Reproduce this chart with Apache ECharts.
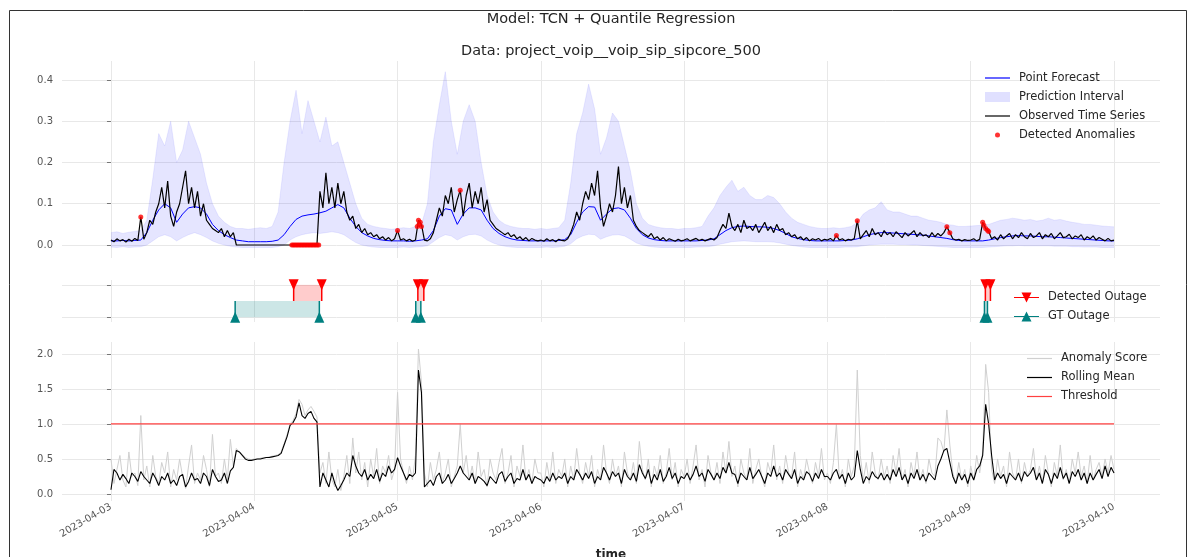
<!DOCTYPE html>
<html>
<head>
<meta charset="utf-8">
<script src="https://cdn.jsdelivr.net/npm/echarts@6/dist/echarts.min.js"></script>
<style>
  html, body { margin: 0; padding: 0; background: #fff; }
  #chart { width: 1196px; height: 557px; }
</style>
</head>
<body>
<div id="chart"></div>
<script>
// x is "hours after 2023-04-03 00:00"
var dayLabels = ['2023-04-03', '2023-04-04', '2023-04-05', '2023-04-06', '2023-04-07', '2023-04-08', '2023-04-09', '2023-04-10'];
var dayTicks = [0, 24, 48, 72, 96, 120, 144, 168];

// observed series, one value every 30 min (one row per day)
var observed = [
  0.012,0.008,0.015,0.010,0.013,0.007,0.014,0.009,0.016,0.011, 0.068,0.014,0.03,0.06,0.05,0.08,0.10,0.14,0.09,0.155, 0.07,0.045,0.08,0.10,0.14,0.18,0.10,0.14,0.09,0.13, 0.07,0.10,0.06,0.05,0.04,0.035,0.03,0.04,0.02,0.035, 0.02,0.03,0,0,0,0,0,0,
  0,0,0,0,0,0,0,0,0,0, 0,0,0,0,0,0,0,0,0,0, 0,0, 0.13,0.09,0.175,0.1,0.14,0.09,0.15,0.1,0.13,0.08, 0.06,0.07,0.04,0.05,0.03,0.04,0.025,0.03,0.02,0.025, 0.015,0.02,0.012,0.018,0.01,0.015,
  0.035,0.012,0.015,0.01,0.014,0.009,0.012,0.06,0.05,0.012, 0.01,0.015,0.03,0.06,0.09,0.07,0.12,0.1,0.14,0.08, 0.11,0.133,0.07,0.12,0.15,0.09,0.13,0.1,0.14,0.08, 0.11,0.06,0.05,0.04,0.035,0.03,0.025,0.03,0.02,0.025, 0.015,0.02,0.012,0.018,0.01,0.016,0.012,0.01,
  0.012,0.009,0.015,0.01,0.013,0.008,0.014,0.011,0.01,0.015, 0.03,0.05,0.08,0.06,0.1,0.13,0.11,0.15,0.12,0.18, 0.09,0.045,0.07,0.1,0.08,0.12,0.19,0.1,0.14,0.09, 0.12,0.06,0.045,0.035,0.03,0.025,0.02,0.028,0.015,0.02, 0.012,0.018,0.01,0.015,0.012,0.009,0.014,0.01,
  0.012,0.015,0.01,0.013,0.016,0.011,0.014,0.01,0.013,0.016, 0.012,0.018,0.035,0.05,0.04,0.077,0.045,0.035,0.05,0.03, 0.06,0.04,0.045,0.035,0.05,0.03,0.042,0.055,0.035,0.045, 0.03,0.05,0.035,0.04,0.025,0.03,0.02,0.025,0.015,0.02, 0.012,0.018,0.01,0.015,0.012,0.016,0.01,0.014,
  0.012,0.016,0.01,0.023,0.012,0.015,0.01,0.014,0.012,0.016, 0.059,0.015,0.025,0.035,0.02,0.04,0.025,0.03,0.02,0.035, 0.025,0.03,0.02,0.032,0.025,0.018,0.03,0.022,0.028,0.035, 0.02,0.03,0.022,0.025,0.018,0.03,0.02,0.028,0.022,0.03, 0.044,0.03,0.015,0.012,0.014,0.01,0.013,0.011,
  0.012,0.015,0.01,0.014,0.055,0.04,0.033,0.015,0.02,0.012, 0.025,0.015,0.022,0.028,0.015,0.025,0.018,0.03,0.02,0.015, 0.028,0.018,0.022,0.03,0.015,0.025,0.02,0.028,0.015,0.022, 0.03,0.018,0.02,0.026,0.015,0.022,0.018,0.025,0.012,0.02, 0.015,0.022,0.012,0.018,0.014,0.01,0.016,0.01,0.012
];

// forecast and interval bounds, one value per hour
var forecast = [
  0.010,0.010,0.011,0.010,0.011,0.012,0.03,0.06,0.085,0.10,0.09,0.055,0.075,0.09,0.093,0.09,0.075,0.05,0.035,0.025,0.018,0.012,0.01,0.008,
  0.008,0.008,0.008,0.009,0.012,0.025,0.045,0.062,0.07,0.073,0.075,0.078,0.082,0.09,0.098,0.09,0.065,0.045,0.03,0.022,0.016,0.013,0.011,0.01,
  0.01,0.01,0.009,0.01,0.012,0.015,0.035,0.07,0.088,0.085,0.05,0.075,0.09,0.09,0.085,0.06,0.04,0.028,0.02,0.015,0.012,0.011,0.01,0.01,
  0.01,0.01,0.01,0.011,0.013,0.025,0.055,0.08,0.093,0.092,0.06,0.075,0.088,0.09,0.085,0.065,0.04,0.025,0.017,0.013,0.011,0.01,0.01,0.01,
  0.01,0.01,0.01,0.011,0.012,0.015,0.025,0.035,0.042,0.045,0.046,0.045,0.044,0.044,0.043,0.04,0.035,0.028,0.02,0.016,0.013,0.011,0.01,0.01,
  0.01,0.01,0.01,0.011,0.012,0.015,0.02,0.025,0.028,0.03,0.03,0.029,0.028,0.027,0.026,0.025,0.024,0.022,0.02,0.018,0.016,0.013,0.011,0.01,
  0.01,0.01,0.01,0.012,0.015,0.018,0.02,0.022,0.023,0.022,0.022,0.021,0.02,0.02,0.019,0.018,0.017,0.016,0.015,0.014,0.013,0.012,0.011,0.01,0.01
];
var upperBound = [
  0.03,0.032,0.028,0.031,0.033,0.035,0.06,0.16,0.27,0.24,0.3,0.2,0.23,0.3,0.26,0.22,0.15,0.1,0.07,0.055,0.045,0.04,0.04,0.038,
  0.04,0.042,0.04,0.045,0.08,0.2,0.3,0.375,0.27,0.35,0.3,0.25,0.31,0.24,0.25,0.2,0.15,0.1,0.065,0.05,0.045,0.042,0.04,0.038,
  0.04,0.042,0.04,0.045,0.05,0.1,0.25,0.34,0.42,0.3,0.22,0.3,0.34,0.3,0.2,0.12,0.08,0.06,0.05,0.045,0.042,0.04,0.04,0.038,
  0.04,0.038,0.04,0.042,0.06,0.15,0.27,0.32,0.39,0.33,0.22,0.26,0.32,0.3,0.24,0.18,0.1,0.065,0.05,0.045,0.042,0.04,0.04,0.038,
  0.04,0.04,0.042,0.045,0.07,0.09,0.12,0.14,0.157,0.13,0.14,0.12,0.11,0.11,0.12,0.115,0.1,0.08,0.065,0.055,0.05,0.045,0.042,0.04,
  0.04,0.042,0.04,0.042,0.045,0.055,0.075,0.085,0.09,0.105,0.085,0.08,0.08,0.075,0.07,0.07,0.065,0.06,0.058,0.055,0.05,0.048,0.045,0.045,
  0.046,0.047,0.048,0.05,0.055,0.06,0.062,0.065,0.063,0.06,0.062,0.058,0.06,0.065,0.06,0.062,0.058,0.055,0.053,0.05,0.05,0.048,0.046,0.045,0.044
];
var lowerBound = [
  -0.005,-0.006,-0.004,-0.006,-0.005,-0.004,0.0,0.01,0.02,0.025,0.02,0.01,0.018,0.025,0.03,0.025,0.018,0.01,0.004,0.0,-0.003,-0.005,-0.006,-0.006,
  -0.006,-0.006,-0.006,-0.006,-0.004,0.0,0.012,0.02,0.025,0.028,0.03,0.028,0.03,0.032,0.03,0.025,0.015,0.006,0.0,-0.003,-0.005,-0.006,-0.006,-0.006,
  -0.006,-0.005,-0.006,-0.005,-0.004,-0.002,0.008,0.018,0.025,0.022,0.012,0.02,0.025,0.026,0.022,0.012,0.005,0.0,-0.003,-0.005,-0.006,-0.006,-0.006,-0.006,
  -0.006,-0.005,-0.006,-0.005,-0.003,0.003,0.015,0.022,0.026,0.025,0.014,0.02,0.024,0.025,0.022,0.014,0.005,0.0,-0.003,-0.005,-0.006,-0.006,-0.006,-0.006,
  -0.006,-0.006,-0.005,-0.005,-0.004,-0.002,0.002,0.005,0.008,0.009,0.01,0.009,0.008,0.008,0.008,0.007,0.005,0.002,-0.001,-0.003,-0.005,-0.006,-0.006,-0.006,
  -0.006,-0.006,-0.006,-0.005,-0.005,-0.004,-0.002,0.0,0.001,0.002,0.002,0.002,0.001,0.001,0.0,0.0,-0.001,-0.002,-0.003,-0.004,-0.005,-0.006,-0.006,-0.006,
  -0.006,-0.006,-0.006,-0.005,-0.004,-0.003,-0.002,-0.002,-0.001,-0.002,-0.002,-0.002,-0.002,-0.002,-0.003,-0.003,-0.003,-0.004,-0.004,-0.005,-0.005,-0.005,-0.006,-0.006,-0.006
];

var anomalyHours = [5, 30.3, 30.55, 30.8, 31.05, 31.3, 31.55, 31.8, 32.05, 32.3, 32.55, 32.8, 33.05, 33.3, 33.55, 33.8, 34.05, 34.3, 34.55, 34.8,
  48, 51.3, 51.5, 51.6, 51.8, 52, 58.5, 121.5, 125, 140, 140.5, 146, 146.2, 146.5, 146.8, 147];
var anomalyValues = [0.068, 0, 0, 0, 0, 0, 0, 0, 0, 0, 0, 0, 0, 0, 0, 0, 0, 0, 0, 0,
  0.035, 0.045, 0.06, 0.05, 0.055, 0.045, 0.133, 0.023, 0.059, 0.044, 0.03, 0.055, 0.048, 0.04, 0.036, 0.033];

// outages (hours)
var gtStart = [20.8, 51.05, 146.3];
var gtEnd = [34.9, 51.9, 146.8];
var detStart = [30.6, 51.4, 146.45];
var detEnd = [35.3, 52.4, 147.3];

// anomaly score and its rolling mean, every 30 min
var anomalyScore = [
  0.5,0.15,0.35,0.55,0.2,0.1,0.6,0.25,0.3,0.12, 1.12,0.2,0.4,0.1,0.55,0.25,0.15,0.45,0.3,0.6, 0.1,0.35,0.2,0.5,0.25,0.08,0.4,0.7,0.15,0.3, 0.2,0.55,0.35,0.1,0.85,0.25,0.3,0.15,0.5,0.2, 0.78,0.4,0.65,0.6,0.56,0.52,0.5,0.49,
  0.5,0.5,0.51,0.52,0.52,0.53,0.54,0.55, 0.56,0.6,0.72,0.85,1.0,1.05,1.15,1.35,1.28,1.12,1.2,1.25,1.18,1.1, 0.3,0.45,0.15,0.6,0.2,0.1,0.35,0.05,0.25,0.55, 0.15,0.8,0.3,0.6,0.2,0.45,0.1,0.5,0.25,0.65, 0.15,0.4,0.3,0.55,0.2,0.35,
  1.45,0.5,0.3,0.15,0.4,0.2,0.55,2.07,1.6,0.3, 0.1,0.45,0.2,0.35,0.6,0.15,0.3,0.5,0.1,0.25, 0.4,1.0,0.3,0.55,0.2,0.4,0.15,0.6,0.25,0.35, 0.1,0.5,0.3,0.2,0.45,0.65,0.15,0.3,0.55,0.1, 0.4,0.25,0.7,0.2,0.35,0.15,0.5,0.3,
  0.3,0.1,0.45,0.2,0.6,0.15,0.35,0.25,0.5,0.1, 0.4,0.2,0.65,0.3,0.15,0.45,0.25,0.55,0.1,0.35, 0.2,0.7,0.3,0.15,0.5,0.25,0.4,0.1,0.6,0.3, 0.2,0.45,0.15,0.75,0.35,0.2,0.5,0.1,0.4,0.25, 0.55,0.15,0.3,0.65,0.2,0.45,0.1,0.35,
  0.25,0.5,0.15,0.4,0.7,0.2,0.35,0.1,0.55,0.3, 0.2,0.45,0.15,0.6,0.3,0.75,0.25,0.4,0.1,0.5, 0.3,0.2,0.65,0.15,0.35,0.5,0.25,0.1,0.45,0.3, 0.7,0.2,0.4,0.15,0.55,0.3,0.25,0.6,0.1,0.35, 0.2,0.5,0.3,0.15,0.45,0.25,0.65,0.2,
  0.3,0.15,0.45,1.0,0.2,0.35,0.1,0.5,0.25,0.4, 1.77,0.55,0.2,0.45,0.15,0.6,0.3,0.2,0.5,0.25, 0.4,0.15,0.55,0.3,0.65,0.2,0.35,0.1,0.45,0.25, 0.6,0.2,0.35,0.15,0.5,0.3,0.25,0.8,0.75,0.6, 1.2,0.7,0.3,0.15,0.45,0.2,0.35,0.1,
  0.4,0.2,0.55,0.3,0.6,1.85,1.45,0.35,0.15,0.5, 0.25,0.4,0.1,0.6,0.3,0.2,0.5,0.15,0.45,0.25, 0.35,0.65,0.2,0.4,0.15,0.55,0.3,0.1,0.45,0.25, 0.7,0.2,0.35,0.15,0.5,0.3,0.6,0.25,0.4,0.15, 0.55,0.2,0.35,0.45,0.25,0.5,0.3,0.55,0.35
];
var rollingMean = [
  0.06,0.35,0.3,0.2,0.28,0.22,0.15,0.3,0.25,0.18, 0.32,0.25,0.2,0.15,0.3,0.22,0.12,0.25,0.2,0.3, 0.15,0.2,0.12,0.25,0.28,0.1,0.18,0.3,0.2,0.22, 0.15,0.3,0.25,0.12,0.35,0.25,0.18,0.2,0.3,0.15, 0.33,0.38,0.62,0.6,0.55,0.5,0.48,0.48,
  0.49,0.5,0.5,0.51,0.52,0.52,0.53,0.54, 0.55,0.58,0.7,0.82,0.98,1.02,1.1,1.3,1.12,1.08,1.15,1.18,1.08,1.03, 0.1,0.3,0.2,0.1,0.3,0.15,0.05,0.12,0.2,0.3, 0.25,0.55,0.4,0.3,0.25,0.35,0.2,0.28,0.22,0.35, 0.18,0.3,0.25,0.4,0.3,0.35,
  0.52,0.4,0.3,0.2,0.28,0.25,0.3,1.77,1.45,0.1, 0.15,0.2,0.12,0.25,0.3,0.15,0.2,0.28,0.15,0.22, 0.3,0.4,0.3,0.25,0.2,0.3,0.15,0.25,0.22,0.18, 0.12,0.25,0.2,0.15,0.28,0.32,0.18,0.25,0.3,0.15, 0.22,0.2,0.35,0.2,0.28,0.15,0.25,0.22,
  0.2,0.15,0.25,0.18,0.3,0.2,0.25,0.22,0.3,0.15, 0.25,0.2,0.35,0.28,0.2,0.3,0.22,0.32,0.15,0.25, 0.2,0.38,0.3,0.2,0.32,0.25,0.3,0.15,0.35,0.25, 0.2,0.3,0.18,0.42,0.3,0.22,0.35,0.15,0.28,0.2, 0.35,0.18,0.25,0.38,0.22,0.3,0.15,0.25,
  0.22,0.3,0.2,0.28,0.4,0.25,0.3,0.18,0.35,0.28, 0.2,0.3,0.22,0.38,0.3,0.45,0.3,0.28,0.15,0.3, 0.25,0.2,0.38,0.22,0.28,0.35,0.25,0.15,0.3,0.25, 0.4,0.25,0.3,0.2,0.35,0.28,0.22,0.35,0.15,0.25, 0.2,0.32,0.28,0.18,0.3,0.22,0.35,0.25,
  0.25,0.2,0.3,0.35,0.22,0.28,0.15,0.3,0.2,0.25, 0.62,0.35,0.15,0.25,0.2,0.32,0.25,0.22,0.3,0.2, 0.28,0.2,0.35,0.25,0.38,0.2,0.28,0.15,0.3,0.22, 0.35,0.2,0.28,0.18,0.3,0.25,0.2,0.4,0.5,0.62, 0.65,0.45,0.25,0.15,0.3,0.2,0.28,0.15,
  0.3,0.2,0.35,0.4,0.55,1.28,1.0,0.55,0.2,0.3, 0.22,0.28,0.15,0.3,0.25,0.2,0.3,0.18,0.32,0.25, 0.3,0.38,0.2,0.3,0.15,0.35,0.28,0.15,0.3,0.22, 0.38,0.22,0.3,0.15,0.32,0.25,0.35,0.2,0.3,0.15, 0.3,0.2,0.28,0.35,0.22,0.4,0.25,0.38,0.3
];
var threshold = 1.0;

var FONT = 'DejaVu Sans';
var LINE_ICON = 'path://M0,0 M25,10 M0,4.4 H25 V5.6 H0 Z';
var DOT_ICON = 'path://M0,0 M25,10 M10,5 A2.5,2.5 0 1 1 15,5 A2.5,2.5 0 1 1 10,5 Z';
var DOWN_ICON = 'path://M0,0 M25,10 M0,4.4 H25 V5.6 H0 Z M7.5,0 H17.5 L12.5,10 Z';
var UP_ICON = 'path://M0,0 M25,10 M0,4.4 H25 V5.6 H0 Z M17.5,10 H7.5 L12.5,0 Z';
var BAND_FILL = 'rgba(0,0,255,0.1)';

function halfHourly(arr) {
  return arr.map(function (v, i) { return [i / 2, v]; });
}
function hourly(arr) {
  return arr.map(function (v, i) { return [i, v]; });
}

function xAxisFor(idx, withLabels) {
  return {
    type: 'value', gridIndex: idx, min: -8.2, max: 175.7,
    axisLine: { show: false },
    axisTick: { show: false, customValues: dayTicks },
    splitLine: { show: true, lineStyle: { color: '#e8e8e8', width: 1 } },
    axisLabel: {
      show: withLabels, customValues: dayTicks, rotate: 30, margin: 5,
      fontFamily: FONT, fontSize: 10, color: '#555',
      formatter: function (v) { return dayLabels[dayTicks.indexOf(v)]; }
    },
    name: withLabels ? 'time' : '',
    nameLocation: 'middle', nameGap: 48,
    nameTextStyle: { fontFamily: FONT, fontSize: 12, fontWeight: 'bold', color: '#262626' }
  };
}
function yAxisFor(idx, min, max, ticks, showLabels) {
  return {
    type: 'value', gridIndex: idx, min: min, max: max,
    axisLine: { show: false },
    axisTick: { show: true, length: 4, customValues: ticks, lineStyle: { color: '#777' } },
    splitLine: { show: true, lineStyle: { color: '#e8e8e8', width: 1 } },
    axisLabel: {
      show: showLabels, customValues: ticks, margin: 9,
      fontFamily: FONT, fontSize: 10, color: '#555',
      formatter: function (v) { return v.toFixed(1); }
    }
  };
}

// the whole interval band is drawn once, as one polygon
function renderBand(params, api) {
  if (params.dataIndex !== 0) return null;
  var top = upperBound.map(function (u, i) { return api.coord([i, u]); });
  var bottom = lowerBound.map(function (l, i) { return api.coord([i, l]); });
  return {
    type: 'group',
    children: [
      { type: 'polygon', shape: { points: top.concat(bottom.slice().reverse()) }, style: { fill: BAND_FILL } },
      { type: 'polyline', shape: { points: top }, style: { fill: 'none', stroke: 'rgba(90,90,255,0.15)', lineWidth: 0.8 } },
      { type: 'polyline', shape: { points: bottom }, style: { fill: 'none', stroke: 'rgba(90,90,255,0.15)', lineWidth: 0.8 } }
    ]
  };
}

function outageRenderer(color, fill, level, dir) {
  return function (params, api) {
    var a = api.coord([api.value(0), level]);
    var b = api.coord([api.value(1), level]);
    var m = api.coord([api.value(0), 0.5]);
    var tri = function (x) {
      var y = a[1];
      return dir < 0
        ? [[x - 5, y - 5.5], [x + 5, y - 5.5], [x, y + 5.5]]
        : [[x - 5, y + 5.5], [x + 5, y + 5.5], [x, y - 5.5]];
    };
    return {
      type: 'group',
      children: [
        { type: 'rect', shape: { x: a[0], y: Math.min(a[1], m[1]), width: b[0] - a[0], height: Math.abs(m[1] - a[1]) }, style: { fill: fill } },
        { type: 'line', shape: { x1: a[0], y1: a[1], x2: a[0], y2: m[1] }, style: { stroke: color, lineWidth: 1.5 } },
        { type: 'line', shape: { x1: b[0], y1: b[1], x2: b[0], y2: m[1] }, style: { stroke: color, lineWidth: 1.5 } },
        { type: 'polygon', shape: { points: tri(a[0]) }, style: { fill: color } },
        { type: 'polygon', shape: { points: tri(b[0]) }, style: { fill: color } }
      ]
    };
  };
}

var legendText = { fontFamily: FONT, fontSize: 11.5, lineHeight: 19, color: '#262626', padding: [0, 0, 0, 4] };
function legendAt(left, top, items) {
  return {
    orient: 'vertical', left: left, top: top, padding: 0,
    itemWidth: 25, itemHeight: 10, itemGap: 0,
    selectedMode: false, textStyle: legendText, itemStyle: { borderWidth: 0 },
    data: items
  };
}

var chart = echarts.init(document.getElementById('chart'), null, { renderer: 'canvas' });
chart.setOption({
  animation: false,
  backgroundColor: '#fff',
  title: [
    { text: 'Model: TCN + Quantile Regression', left: 606, top: 7, textAlign: 'center',
      textStyle: { fontFamily: FONT, fontSize: 14.5, fontWeight: 'normal', color: '#262626' } },
    { text: 'Data: project_voip__voip_sip_sipcore_500', left: 606, top: 39, textAlign: 'center',
      textStyle: { fontFamily: FONT, fontSize: 14.5, fontWeight: 'normal', color: '#262626' } }
  ],
  graphic: [
    { type: 'rect', shape: { x: 9.5, y: 10.5, width: 1177, height: 600 }, style: { fill: 'none', stroke: '#333', lineWidth: 1 }, silent: true }
  ],
  grid: [
    { left: 62, right: 36, top: 61, height: 197, outerBoundsMode: 'none' },
    { left: 62, right: 36, top: 280, height: 42, outerBoundsMode: 'none' },
    { left: 62, right: 36, top: 342, height: 159, outerBoundsMode: 'none' }
  ],
  xAxis: [xAxisFor(0, false), xAxisFor(1, false), xAxisFor(2, true)],
  yAxis: [
    yAxisFor(0, -0.0315, 0.446, [0, 0.1, 0.2, 0.3, 0.4], true),
    yAxisFor(1, -0.15, 1.15, [0, 1], false),
    yAxisFor(2, -0.1, 2.17, [0, 0.5, 1, 1.5, 2], true)
  ],
  legend: [
    legendAt(985, 68.5, [
      { name: 'Point Forecast', icon: LINE_ICON },
      { name: 'Prediction Interval', icon: 'rect', itemStyle: { color: 'rgba(0,0,255,0.12)' } },
      { name: 'Observed Time Series', icon: LINE_ICON },
      { name: 'Detected Anomalies', icon: DOT_ICON }
    ]),
    legendAt(1014, 288, [
      { name: 'Detected Outage', icon: DOWN_ICON },
      { name: 'GT Outage', icon: UP_ICON }
    ]),
    legendAt(1027, 349, [
      { name: 'Anomaly Score', icon: LINE_ICON },
      { name: 'Rolling Mean', icon: LINE_ICON },
      { name: 'Threshold', icon: LINE_ICON }
    ])
  ],
  series: [
    {
      name: 'Prediction Interval', type: 'custom', xAxisIndex: 0, yAxisIndex: 0,
      data: upperBound.map(function (u, i) { return [i, lowerBound[i], u]; }),
      encode: { x: 0, y: [1, 2] }, silent: true, z: 1,
      itemStyle: { color: 'rgba(0,0,255,0.12)' },
      renderItem: renderBand
    },
    {
      name: 'Point Forecast', type: 'line', xAxisIndex: 0, yAxisIndex: 0, data: hourly(forecast),
      symbol: 'none', z: 2, itemStyle: { color: '#0000ff' }, lineStyle: { color: '#0000ff', width: 1 }
    },
    {
      name: 'Observed Time Series', type: 'line', xAxisIndex: 0, yAxisIndex: 0, data: halfHourly(observed),
      symbol: 'none', z: 3, itemStyle: { color: '#000' }, lineStyle: { color: '#000', width: 1.2 }
    },
    {
      name: 'Detected Anomalies', type: 'scatter', xAxisIndex: 0, yAxisIndex: 0,
      data: anomalyHours.map(function (h, i) { return [h, anomalyValues[i]]; }),
      symbolSize: 5, z: 4, itemStyle: { color: '#ff0000' }
    },
    {
      name: 'GT Outage', type: 'custom', xAxisIndex: 1, yAxisIndex: 1,
      data: gtStart.map(function (s, i) { return [s, gtEnd[i], 0]; }),
      encode: { x: [0, 1], y: 2 },
      itemStyle: { color: '#008080' },
      renderItem: outageRenderer('#008080', 'rgba(0,128,128,0.2)', 0, 1)
    },
    {
      name: 'Detected Outage', type: 'custom', xAxisIndex: 1, yAxisIndex: 1,
      data: detStart.map(function (s, i) { return [s, detEnd[i], 1]; }),
      encode: { x: [0, 1], y: 2 },
      itemStyle: { color: '#ff0000' },
      renderItem: outageRenderer('#ff0000', 'rgba(255,0,0,0.2)', 1, -1)
    },
    {
      name: 'Anomaly Score', type: 'line', xAxisIndex: 2, yAxisIndex: 2, data: halfHourly(anomalyScore),
      symbol: 'none', z: 1, itemStyle: { color: '#d0d0d0' }, lineStyle: { color: '#d0d0d0', width: 1 }
    },
    {
      name: 'Rolling Mean', type: 'line', xAxisIndex: 2, yAxisIndex: 2, data: halfHourly(rollingMean),
      symbol: 'none', z: 2, itemStyle: { color: '#000' }, lineStyle: { color: '#000', width: 1.1 }
    },
    {
      name: 'Threshold', type: 'line', xAxisIndex: 2, yAxisIndex: 2,
      data: [[dayTicks[0], threshold], [dayTicks[dayTicks.length - 1], threshold]],
      symbol: 'none', z: 3, itemStyle: { color: '#ff4040' }, lineStyle: { color: '#ff4040', width: 1.2 }
    }
  ]
});
</script>
</body>
</html>
